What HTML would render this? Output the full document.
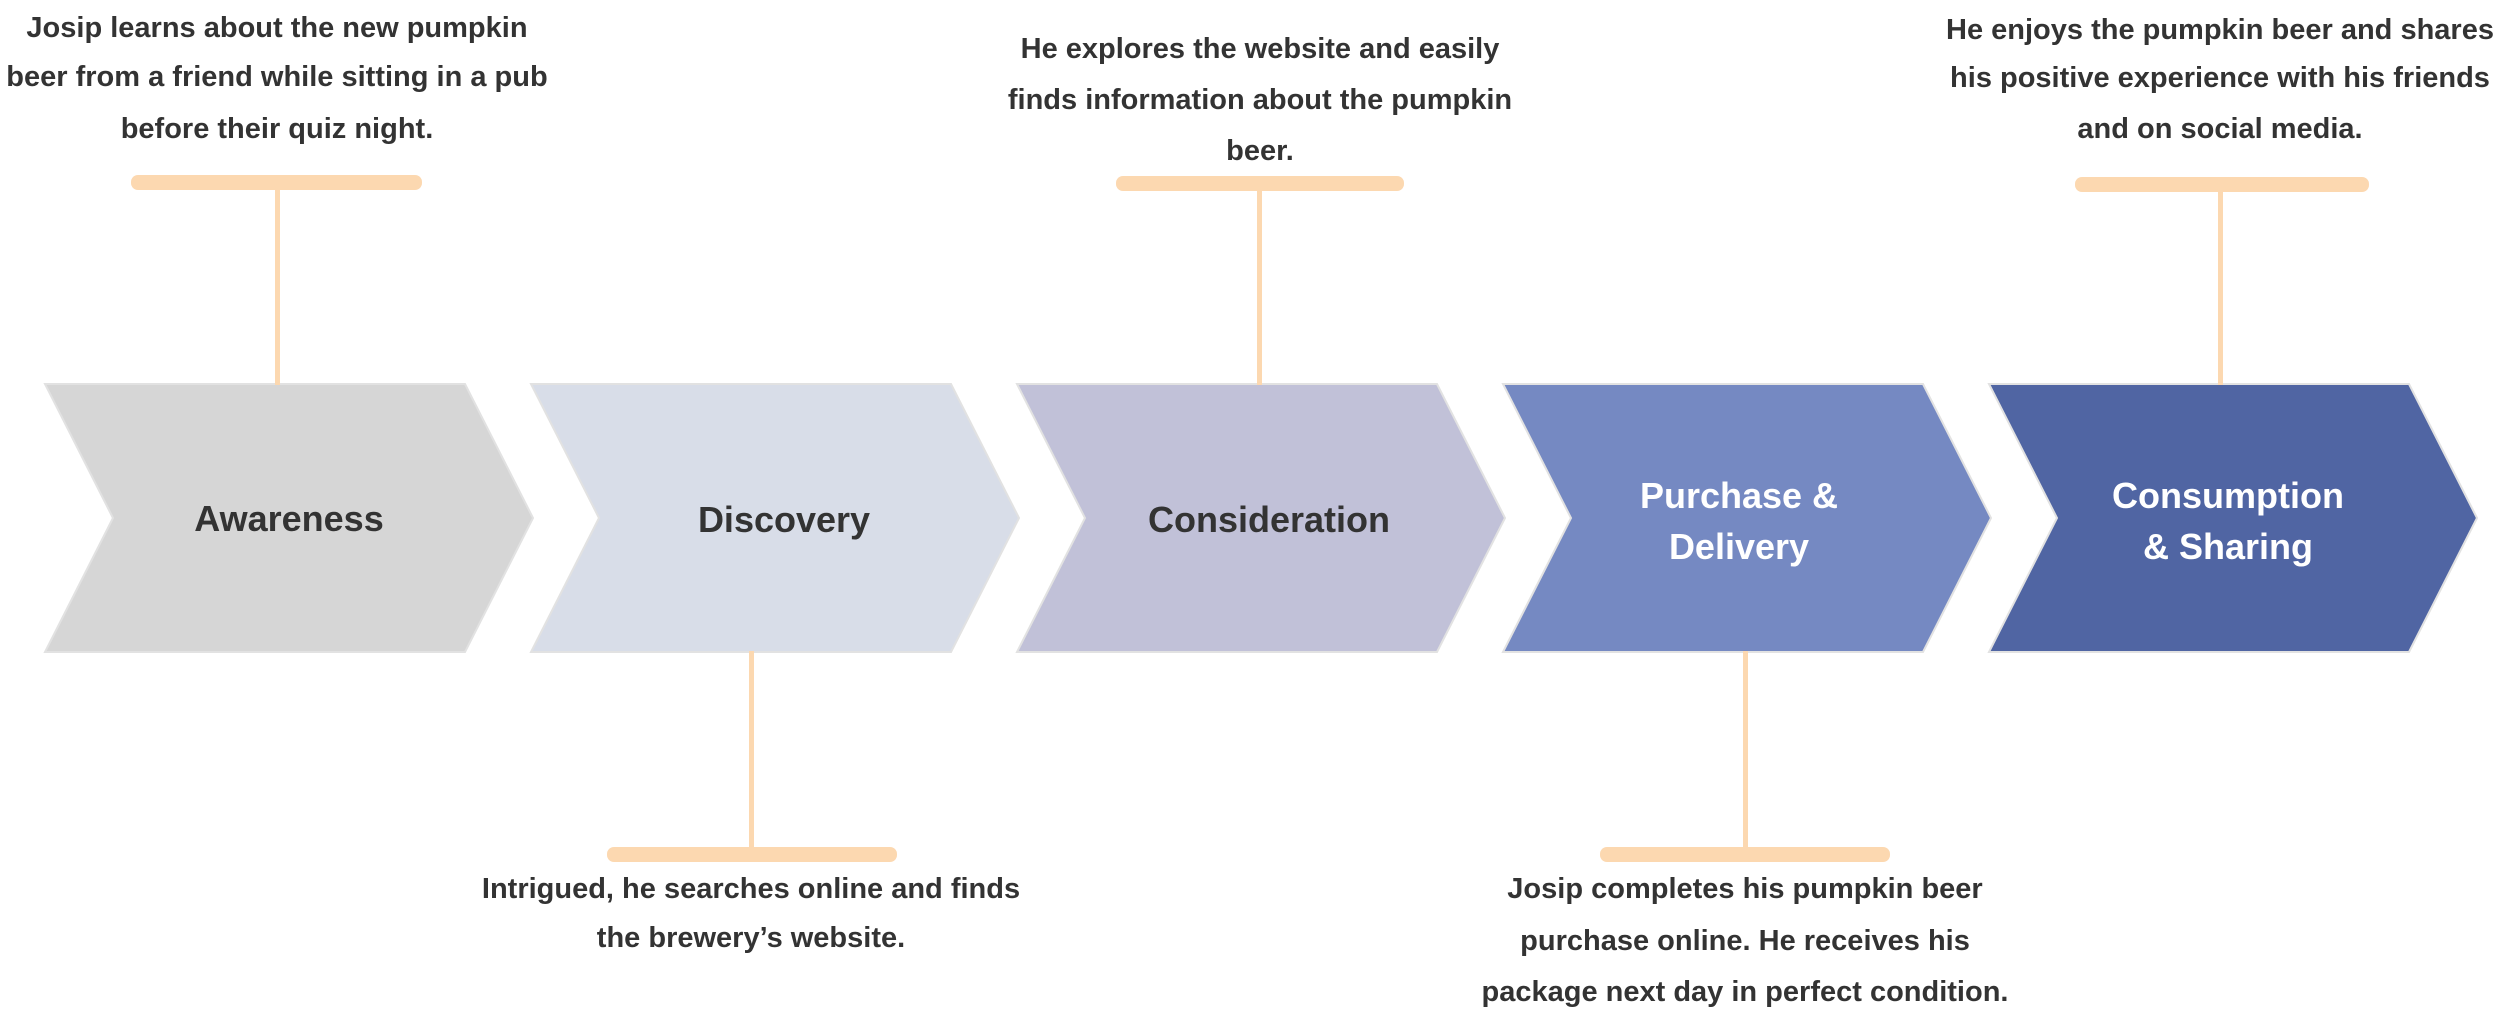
<!DOCTYPE html>
<html><head><meta charset="utf-8"><style>
html,body{margin:0;padding:0;background:#fff;}
svg{display:block;}
text{font-family:"Liberation Sans",Arial,sans-serif;font-weight:bold;fill:#333;}
</style></head><body>
<svg width="2500" height="1019" viewBox="0 0 2500 1019" xmlns="http://www.w3.org/2000/svg">
<g stroke="#e2e2e2" stroke-width="2">
<polygon points="45,384 465,384 533,518 465,652 45,652 113,518" fill="#d6d6d6"/>
<polygon points="531,384 951,384 1019,518 951,652 531,652 599,518" fill="#d8dde8"/>
<polygon points="1017,384 1437,384 1505,518 1437,652 1017,652 1085,518" fill="#c1c1d8"/>
<polygon points="1503,384 1923,384 1991,518 1923,652 1503,652 1571,518" fill="#7589c2"/>
<polygon points="1989,384 2409,384 2477,518 2409,652 1989,652 2057,518" fill="#5065a3"/>
</g>
<g fill="#fcd8b0">
<rect x="131" y="175" width="291" height="15" rx="7"/><rect x="275" y="188" width="5" height="197"/>
<rect x="1116" y="176" width="288" height="15" rx="7"/><rect x="1257" y="189" width="5" height="196"/>
<rect x="2075" y="177" width="294" height="15" rx="7"/><rect x="2218" y="190" width="5" height="195"/>
<rect x="607" y="847" width="290" height="15" rx="7"/><rect x="749" y="651" width="5" height="198"/>
<rect x="1600" y="847" width="290" height="15" rx="7"/><rect x="1743" y="651" width="5" height="198"/>
</g>
<g font-size="36" text-anchor="middle">
<text x="289" y="531">Awareness</text>
<text x="784" y="532">Discovery</text>
<text x="1269" y="532">Consideration</text>
<text x="1739" y="508" style="fill:#fff">Purchase &amp;</text>
<text x="1739" y="559" style="fill:#fff">Delivery</text>
<text x="2228" y="508" style="fill:#fff">Consumption</text>
<text x="2228" y="559" style="fill:#fff">&amp; Sharing</text>
</g>
<g font-size="29" text-anchor="middle">
<text x="277" y="37">Josip learns about the new pumpkin</text>
<text x="277" y="86">beer from a friend while sitting in a pub</text>
<text x="277" y="138">before their quiz night.</text>
<text x="1260" y="58">He explores the website and easily</text>
<text x="1260" y="109">finds information about the pumpkin</text>
<text x="1260" y="160">beer.</text>
<text x="2220" y="39">He enjoys the pumpkin beer and shares</text>
<text x="2220" y="87">his positive experience with his friends</text>
<text x="2220" y="138">and on social media.</text>
<text x="751" y="898">Intrigued, he searches online and finds</text>
<text x="751" y="947">the brewery’s website.</text>
<text x="1745" y="898">Josip completes his pumpkin beer</text>
<text x="1745" y="950">purchase online. He receives his</text>
<text x="1745" y="1001">package next day in perfect condition.</text>
</g>
</svg>
</body></html>
